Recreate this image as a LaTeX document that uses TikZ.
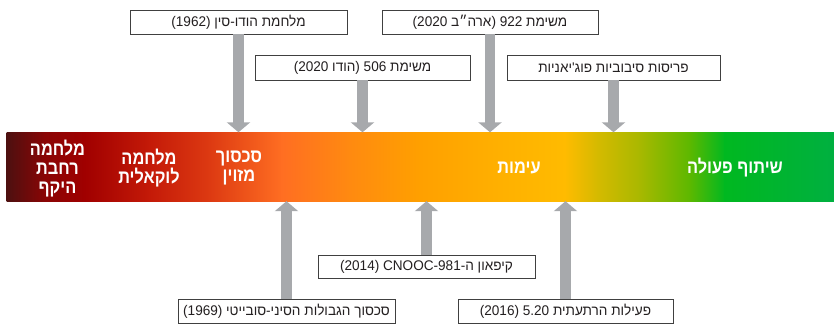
\documentclass[tikz,border=0pt]{standalone}
\usepackage{fontspec}
\usetikzlibrary{arrows.meta}
\TeXXeTstate=1
\newfontfamily\hebfont[Script=Hebrew,FakeStretch=0.97]{Liberation Sans}
\newfontfamily\hebboldfont[Script=Hebrew,FakeStretch=0.86]{Liberation Sans Bold}
\newfontfamily\latfont[FakeStretch=0.97]{Liberation Sans}
\definecolor{arrowgray}{HTML}{A7A9AC}
\definecolor{boxline}{HTML}{404040}
\definecolor{boxtext}{HTML}{231F20}
\definecolor{c01}{HTML}{4D1010}
\definecolor{c02}{HTML}{8A0505}
\definecolor{c03}{HTML}{A00000}
\definecolor{c04}{HTML}{C41A08}
\definecolor{c05}{HTML}{DD3A12}
\definecolor{c06}{HTML}{FF6E22}
\definecolor{c07}{HTML}{FF8A10}
\definecolor{c08}{HTML}{FFA000}
\definecolor{c09}{HTML}{FFB000}
\definecolor{c10}{HTML}{FFBB00}
\definecolor{c11}{HTML}{D8BA00}
\definecolor{c12}{HTML}{A8B800}
\definecolor{c13}{HTML}{5CB800}
\definecolor{c14}{HTML}{00B820}
\definecolor{c15}{HTML}{00B040}
\tikzset{
  evbox/.style={draw=boxline, line width=0.9pt, fill=white, minimum height=24pt,
    inner sep=0pt, text=boxtext, font=\hebfont\fontsize{14}{16}\selectfont},
  bandlabel/.style={text=white, align=center, inner sep=0pt,
    font=\hebboldfont\fontsize{19}{19}\selectfont},
  conn/.style={draw=arrowgray, line width=10.5pt, -{Triangle[width=23pt,length=10pt]}},
  bandarea/.style={inner sep=0pt, minimum width=827pt, minimum height=68.5pt}
}
\begin{document}
\begin{tikzpicture}[x=1pt,y=-1pt]
\useasboundingbox (0,0) rectangle (834,325);
% gradient band
\def\stops{7/c01/45/c02, 45/c02/85/c03, 85/c03/150/c04, 150/c04/210/c05, 210/c05/282/c06,
  282/c06/350/c07, 350/c07/420/c08, 420/c08/500/c09, 500/c09/565/c10, 565/c10/595/c11,
  595/c11/640/c12, 640/c12/690/c13, 690/c13/725/c14, 725/c14/834/c15}
\foreach \xa/\ca/\xb/\cb in \stops {
  \fill[left color=\ca, right color=\cb, draw=none] (\xa-0.4,132.5) rectangle (\xb+0.4,201);
}
\node[bandarea] (band) at (420.5,166.75) {};
% band labels
\node[bandlabel] (l1) at (57.5,168.5) {\beginR מלחמה\endR\\\beginR רחבת\endR\\\beginR היקף\endR};
\node[bandlabel] (l2) at (149,168.5) {\beginR מלחמה\endR\\\beginR לוקאלית\endR};
\node[bandlabel] (l3) at (239,168.5) {\beginR סכסוך\endR\\\beginR מזוין\endR};
\node[bandlabel] (l4) at (519,168) {\beginR עימות\endR};
\node[bandlabel] (l5) at (735,168) {\beginR שיתוף פעולה\endR};
% event boxes (top)
\node[evbox, minimum width=217pt] (b1) at (238.5,22) {\beginR מלחמת הודו-סין (1962)\endR};
\node[evbox, minimum width=216pt] (b2) at (490,22) {\beginR משימת 922 (ארה״ב 2020)\endR};
\node[evbox, minimum width=215pt, minimum height=25pt] (b3) at (362.5,67.5) {\beginR משימת 506 (הודו 2020)\endR};
\node[evbox, minimum width=213pt, minimum height=25pt] (b4) at (613.5,67.5) {\beginR פריסות סיבוביות פוג'יאניות\endR};
% event boxes (bottom)
\node[evbox, minimum width=217pt] (b5) at (286.5,311) {\beginR סכסוך הגבולות הסיני-סובייטי (1969)\endR};
\node[evbox, minimum width=217pt, minimum height=23pt] (b6) at (426.5,266.5) {\beginR קיפאון ה-\beginL{\latfont CNOOC-981}\endL{} \beginL{\latfont (2014)}\endL\endR};
\node[evbox, minimum width=215pt] (b7) at (565.5,311) {\beginR פעילות הרתעתית 5.20 (2016)\endR};
% connectors
\draw[conn] (b1.south) -- (b1.south |- band.north);
\draw[conn] (b2.south) -- (b2.south |- band.north);
\draw[conn] (b3.south) -- (b3.south |- band.north);
\draw[conn] (b4.south) -- (b4.south |- band.north);
\draw[conn] (b5.north) -- (b5.north |- band.south);
\draw[conn] (b6.north) -- (b6.north |- band.south);
\draw[conn] (b7.north) -- (b7.north |- band.south);
\end{tikzpicture}
\end{document}
